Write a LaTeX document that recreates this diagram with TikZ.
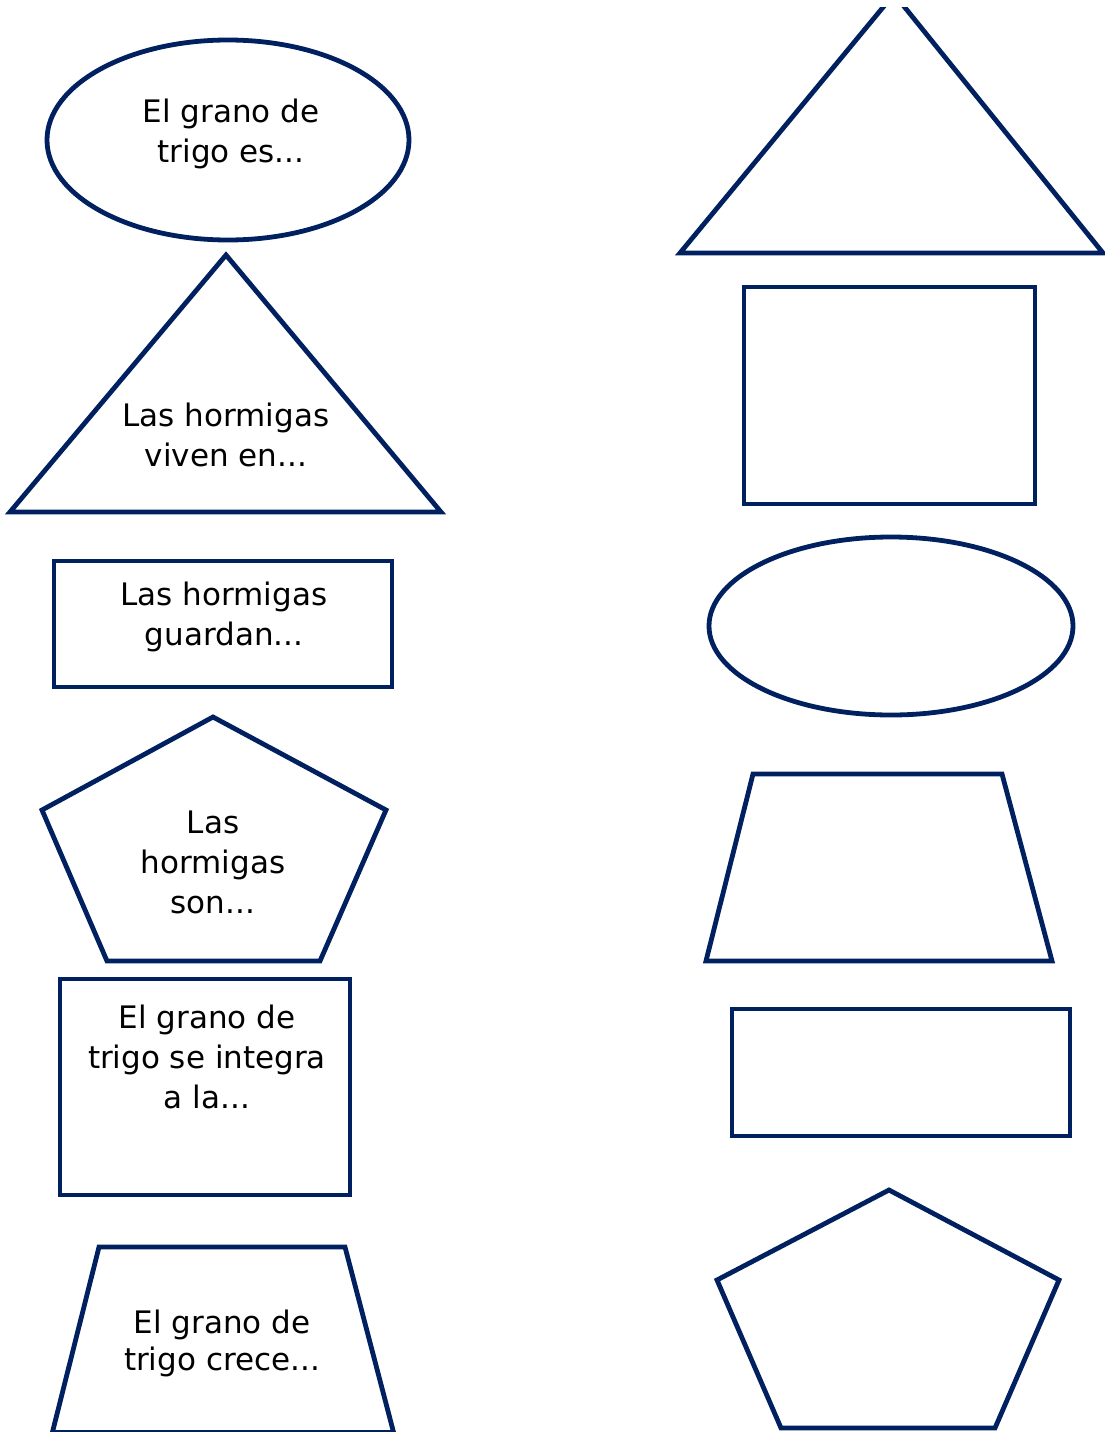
\documentclass[tikz,border=0pt]{standalone}
\usepackage{fontspec}
\setmainfont{DejaVu Sans}
\definecolor{navy}{HTML}{002060}
\begin{document}
\begin{tikzpicture}[x=1pt,y=-1pt,
  shapeline/.style={draw=navy,line width=4.8pt,line join=miter},
  lbl/.style={align=center,inner sep=0pt,text=black,font=\fontsize{31}{40}\selectfont}]
\useasboundingbox (0,0) rectangle (1105,1432);
\clip (0,0) rectangle (1105,1432);
% ---------- left column ----------
\draw[shapeline] (228,140) ellipse [x radius=181, y radius=100];
\node[lbl] (t1) at (231,134) {El grano de\\trigo es...};
\draw[shapeline] (226,255) -- (441,512) -- (10,512) -- cycle;
\node[lbl] (t2) at (226,435) {Las hormigas\\viven en...};
\draw[shapeline] (54,561) rectangle (392,687);
\node[lbl] (t3) at (224,617) {Las hormigas\\guardan...};
\draw[shapeline] (213,717) -- (386,810) -- (320,961) -- (107,961) -- (42,810) -- cycle;
\node[lbl] (t4) at (213,862) {Las\\hormigas\\son...};
\draw[shapeline] (60,979) rectangle (350,1195);
\node[lbl] (t5) at (207,1057) {El grano de\\trigo se integra\\a la...};
\draw[shapeline] (52,1434) -- (99,1247) -- (345,1247) -- (394,1434);
\draw[shapeline] (52,1432) -- (394,1432);
\node[lbl,font=\fontsize{31}{37}\selectfont] (t6) at (222,1343) {El grano de\\trigo crece...};
% ---------- right column ----------
\begin{scope}
\clip (600,7) rectangle (1105,300);
\draw[shapeline] (894,-6) -- (1103,253) -- (680,253) -- cycle;
\end{scope}
\draw[shapeline] (744,287) rectangle (1035,504);
\draw[shapeline] (891,626) ellipse [x radius=182, y radius=89];
\draw[shapeline] (753,774) -- (1002,774) -- (1052,961) -- (706,961) -- cycle;
\draw[shapeline] (732,1009) rectangle (1070,1136);
\draw[shapeline] (889,1190) -- (1059,1280) -- (995,1428) -- (781,1428) -- (717,1280) -- cycle;
\end{tikzpicture}
\end{document}
